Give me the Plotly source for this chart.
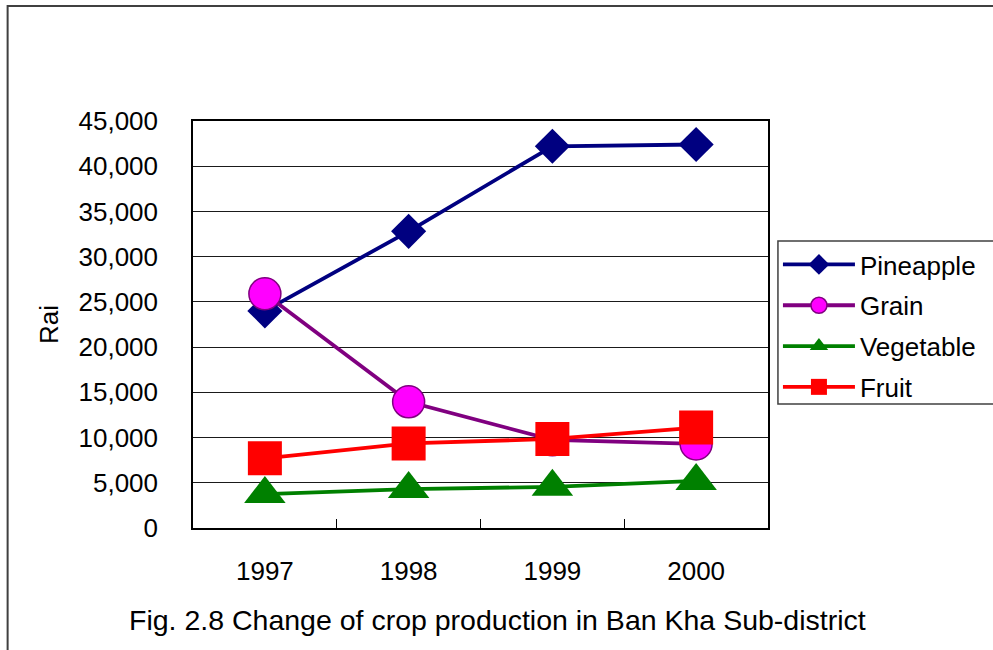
import plotly.graph_objects as go

years = ["1997", "1998", "1999", "2000"]
pineapple = [24000, 32800, 42200, 42400]
grain = [25900, 13950, 9750, 9300]
vegetable = [3750, 4300, 4550, 5200]
fruit = [7700, 9350, 9850, 11100]
y_ticks = [0, 5000, 10000, 15000, 20000, 25000, 30000, 35000, 40000, 45000]
caption = "Fig. 2.8 Change of crop production in Ban Kha Sub-district"

FONT = "Arial, Liberation Sans, sans-serif"

fig = go.Figure()
fig.add_trace(go.Scatter(
    x=years, y=pineapple, name="Pineapple", mode="lines+markers", legendgroup="a",
    line=dict(color="#000080", width=3.8),
    marker=dict(symbol="diamond", size=27, color="#000080", line=dict(width=0))))
fig.add_trace(go.Scatter(
    x=years, y=grain, name="Grain", mode="lines+markers", legendgroup="b",
    line=dict(color="#800080", width=3.8),
    marker=dict(symbol="circle", size=32, color="#FF00FF", line=dict(color="#800080", width=1.5))))
fig.add_trace(go.Scatter(
    x=years, y=vegetable, name="Vegetable", mode="lines+markers", legendgroup="c",
    line=dict(color="#008000", width=3.8),
    marker=dict(symbol="triangle-up", size=36, color="#008000", line=dict(width=0))))
fig.add_trace(go.Scatter(
    x=years, y=fruit, name="Fruit", mode="lines+markers", legendgroup="d",
    line=dict(color="#FF0000", width=3.8),
    marker=dict(symbol="square", size=34, color="#FF0000", line=dict(width=0))))

fig.update_layout(
    width=993, height=650,
    margin=dict(l=193, r=223, t=121, b=122),
    paper_bgcolor="white", plot_bgcolor="white",
    font=dict(family=FONT, size=26, color="black"),
    showlegend=True,
    legend=dict(
        x=1.0173, xanchor="left", y=0.705, yanchor="top",
        borderwidth=0, bgcolor="rgba(0,0,0,0)",
        font=dict(family=FONT, size=26, color="black"),
        tracegroupgap=4, itemwidth=72,
    ),
    xaxis=dict(
        type="category", range=[-0.5, 3.5],
        showline=True, linecolor="black", linewidth=1.5, mirror=True,
        showgrid=False, tickson="boundaries", ticks="inside", ticklen=9,
        tickcolor="black", tickwidth=1,
        ticklabelstandoff=19,
        tickfont=dict(family=FONT, size=26),
    ),
    yaxis=dict(
        range=[0, 45000], tickvals=y_ticks, tickformat=",d",
        showline=True, linecolor="black", linewidth=1.5, mirror=True,
        showgrid=True, gridcolor="#1a1a1a", gridwidth=1, zeroline=False,
        ticks="", ticklabelstandoff=28,
        tickfont=dict(family=FONT, size=26),
        title=dict(text="Rai", standoff=12, font=dict(family=FONT, size=26)),
    ),
    shapes=[
        dict(type="rect", xref="paper", yref="paper",
             x0=-0.3224, x1=2.0, y0=-1.0, y1=1.2826,
             line=dict(color="#404040", width=2), fillcolor="rgba(0,0,0,0)", layer="below"),
        dict(type="rect", xref="paper", yref="paper",
             x0=1.0173, x1=2.0, y0=0.3047, y1=0.7052,
             line=dict(color="#404040", width=1.5), fillcolor="rgba(0,0,0,0)", layer="below"),
    ],
    annotations=[dict(text=caption, xref="paper", yref="paper", x=0.53, y=-0.225,
                      xanchor="center", yanchor="middle", showarrow=False,
                      font=dict(family=FONT, size=28.5, color="black"))],
)

fig.write_html("out.html", config={"displayModeBar": False},
               post_script="document.body.style.margin='0';document.body.style.overflow='hidden';")
